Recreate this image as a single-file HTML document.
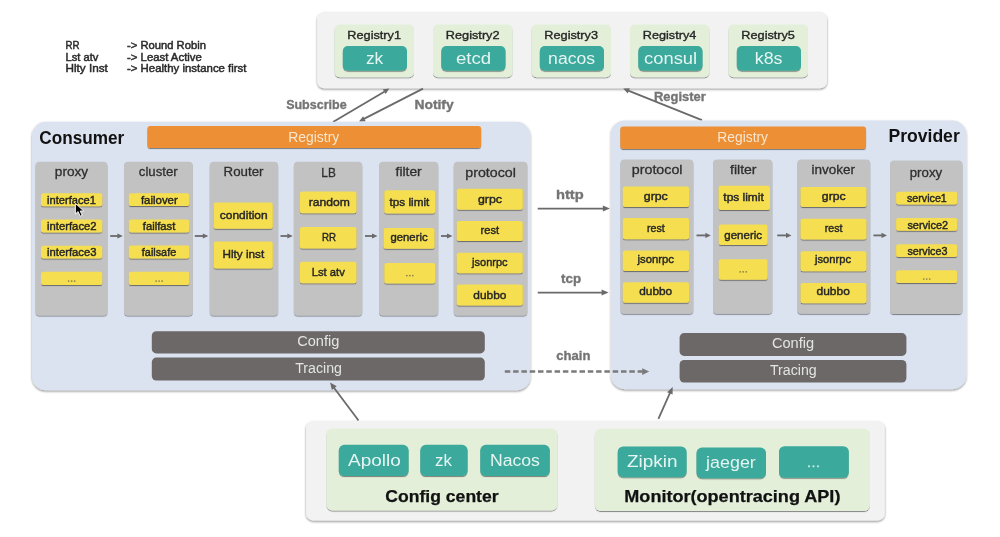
<!DOCTYPE html><html><head><meta charset="utf-8"><style>
html,body{margin:0;padding:0;background:#fff;}
svg{display:block;font-family:"Liberation Sans", sans-serif;filter:blur(0.6px);}
</style></head><body>
<svg width="1000" height="537" viewBox="0 0 1000 537">
<defs>
<filter id="sh" x="-10%" y="-10%" width="120%" height="130%"><feDropShadow dx="0" dy="1.1" stdDeviation="0.7" flood-color="#000" flood-opacity="0.42"/></filter>
<filter id="shb" x="-5%" y="-5%" width="110%" height="115%"><feDropShadow dx="0" dy="1.2" stdDeviation="0.8" flood-color="#000" flood-opacity="0.45"/></filter>
</defs>
<rect width="1000" height="537" fill="#fff"/>
<text x="65.60" y="49.40" font-size="10.3" fill="#2a2a2a" stroke="#2a2a2a" stroke-width="0.45" textLength="14.05" lengthAdjust="spacingAndGlyphs">RR</text>
<text x="127.00" y="49.40" font-size="10.3" fill="#2a2a2a" stroke="#2a2a2a" stroke-width="0.45" textLength="78.93" lengthAdjust="spacingAndGlyphs">-&gt; Round Robin</text>
<text x="65.49" y="60.90" font-size="10.3" fill="#2a2a2a" stroke="#2a2a2a" stroke-width="0.45" textLength="32.85" lengthAdjust="spacingAndGlyphs">Lst atv</text>
<text x="127.00" y="60.90" font-size="10.3" fill="#2a2a2a" stroke="#2a2a2a" stroke-width="0.45" textLength="74.80" lengthAdjust="spacingAndGlyphs">-&gt; Least Active</text>
<text x="65.44" y="71.80" font-size="10.3" fill="#2a2a2a" stroke="#2a2a2a" stroke-width="0.45" textLength="42.35" lengthAdjust="spacingAndGlyphs">Hlty Inst</text>
<text x="126.99" y="71.80" font-size="10.3" fill="#2a2a2a" stroke="#2a2a2a" stroke-width="0.45" textLength="119.49" lengthAdjust="spacingAndGlyphs">-&gt; Healthy instance first</text>
<rect x="317.3" y="12.3" width="509.7" height="75.9" rx="7" fill="#f2f2f2" filter="url(#shb)"/>
<rect x="334.5" y="24.5" width="79.5" height="52.7" rx="5" fill="#e3efd9" filter="url(#sh)"/>
<text x="347.36" y="39.40" font-size="11.6" fill="#262626" stroke="#262626" stroke-width="0.35" textLength="53.66" lengthAdjust="spacingAndGlyphs">Registry1</text>
<rect x="342.8" y="46.1" width="64.2" height="24.7" rx="5" fill="#3aa99b" filter="url(#sh)"/>
<text x="365.90" y="63.50" font-size="16" fill="#e6f5f2" textLength="17.27" lengthAdjust="spacingAndGlyphs">zk</text>
<rect x="433.0" y="24.5" width="79.5" height="52.7" rx="5" fill="#e3efd9" filter="url(#sh)"/>
<text x="445.86" y="39.40" font-size="11.6" fill="#262626" stroke="#262626" stroke-width="0.35" textLength="53.68" lengthAdjust="spacingAndGlyphs">Registry2</text>
<rect x="441.3" y="46.1" width="64.2" height="24.7" rx="5" fill="#3aa99b" filter="url(#sh)"/>
<text x="456.01" y="63.50" font-size="16" fill="#e6f5f2" textLength="35.19" lengthAdjust="spacingAndGlyphs">etcd</text>
<rect x="531.5" y="24.5" width="79.5" height="52.7" rx="5" fill="#e3efd9" filter="url(#sh)"/>
<text x="544.36" y="39.40" font-size="11.6" fill="#262626" stroke="#262626" stroke-width="0.35" textLength="53.60" lengthAdjust="spacingAndGlyphs">Registry3</text>
<rect x="539.8" y="46.1" width="64.2" height="24.7" rx="5" fill="#3aa99b" filter="url(#sh)"/>
<text x="548.13" y="63.50" font-size="16" fill="#e6f5f2" textLength="47.01" lengthAdjust="spacingAndGlyphs">nacos</text>
<rect x="630.0" y="24.5" width="79.5" height="52.7" rx="5" fill="#e3efd9" filter="url(#sh)"/>
<text x="642.86" y="39.40" font-size="11.6" fill="#262626" stroke="#262626" stroke-width="0.35" textLength="53.41" lengthAdjust="spacingAndGlyphs">Registry4</text>
<rect x="638.3" y="46.1" width="64.2" height="24.7" rx="5" fill="#3aa99b" filter="url(#sh)"/>
<text x="644.12" y="63.50" font-size="16" fill="#e6f5f2" textLength="53.01" lengthAdjust="spacingAndGlyphs">consul</text>
<rect x="728.5" y="24.5" width="79.5" height="52.7" rx="5" fill="#e3efd9" filter="url(#sh)"/>
<text x="741.36" y="39.40" font-size="11.6" fill="#262626" stroke="#262626" stroke-width="0.35" textLength="53.57" lengthAdjust="spacingAndGlyphs">Registry5</text>
<rect x="736.8" y="46.1" width="64.2" height="24.7" rx="5" fill="#3aa99b" filter="url(#sh)"/>
<text x="754.75" y="63.50" font-size="16" fill="#e6f5f2" textLength="27.75" lengthAdjust="spacingAndGlyphs">k8s</text>
<line x1="333.0" y1="122.0" x2="384.7" y2="91.4" stroke="#6a6a6a" stroke-width="1.8"/>
<polygon points="389.4,88.6 385.7,94.1 382.8,89.2" fill="#6a6a6a"/>
<line x1="423.0" y1="88.6" x2="363.9" y2="118.9" stroke="#6a6a6a" stroke-width="1.8"/>
<polygon points="359.0,121.4 363.1,116.2 365.6,121.2" fill="#6a6a6a"/>
<line x1="701.9" y1="120.1" x2="628.3" y2="90.6" stroke="#6a6a6a" stroke-width="1.8"/>
<polygon points="623.2,88.6 629.8,88.2 627.7,93.4" fill="#6a6a6a"/>
<text x="286.14" y="109.30" font-size="12.8" fill="#747474" font-weight="bold" stroke="#747474" stroke-width="0.35" textLength="60.49" lengthAdjust="spacingAndGlyphs">Subscribe</text>
<text x="414.47" y="109.40" font-size="12.8" fill="#747474" font-weight="bold" stroke="#747474" stroke-width="0.35" textLength="39.20" lengthAdjust="spacingAndGlyphs">Notify</text>
<text x="654.03" y="100.90" font-size="12.8" fill="#747474" font-weight="bold" stroke="#747474" stroke-width="0.35" textLength="51.76" lengthAdjust="spacingAndGlyphs">Register</text>
<rect x="32.0" y="121.8" width="498.4" height="268.5" rx="14" fill="#dbe3f1" filter="url(#shb)"/>
<text x="39.30" y="144.00" font-size="17.5" fill="#111" font-weight="bold" textLength="84.96" lengthAdjust="spacingAndGlyphs">Consumer</text>
<rect x="147.4" y="126.0" width="333.8" height="22.0" rx="3" fill="#ec8f36" filter="url(#sh)"/>
<text x="288.26" y="141.50" font-size="14" fill="#f9e6cf" textLength="50.97" lengthAdjust="spacingAndGlyphs">Registry</text>
<rect x="35.5" y="161.8" width="72.0" height="153.7" rx="4" fill="#c2c2c2" filter="url(#sh)"/>
<text x="54.82" y="176.20" font-size="13.2" fill="#2e2e2e" stroke="#2e2e2e" stroke-width="0.3" textLength="33.30" lengthAdjust="spacingAndGlyphs">proxy</text>
<rect x="41.0" y="193.3" width="61.3" height="13.0" rx="2.5" fill="#f5de50" filter="url(#sh)"/>
<text x="47.06" y="203.50" font-size="10.8" fill="#262626" stroke="#262626" stroke-width="0.42" textLength="48.79" lengthAdjust="spacingAndGlyphs">interface1</text>
<rect x="41.0" y="219.6" width="61.3" height="12.8" rx="2.5" fill="#f5de50" filter="url(#sh)"/>
<text x="47.05" y="229.70" font-size="10.8" fill="#262626" stroke="#262626" stroke-width="0.42" textLength="49.52" lengthAdjust="spacingAndGlyphs">interface2</text>
<rect x="41.0" y="245.7" width="61.3" height="12.8" rx="2.5" fill="#f5de50" filter="url(#sh)"/>
<text x="47.05" y="255.90" font-size="10.8" fill="#262626" stroke="#262626" stroke-width="0.42" textLength="49.45" lengthAdjust="spacingAndGlyphs">interface3</text>
<rect x="41.0" y="271.8" width="61.3" height="13.2" rx="2.5" fill="#f5de50" filter="url(#sh)"/>
<circle cx="68.7" cy="281.1" r="0.85" fill="#8a7f4a"/>
<circle cx="71.7" cy="281.1" r="0.85" fill="#8a7f4a"/>
<circle cx="74.7" cy="281.1" r="0.85" fill="#8a7f4a"/>
<rect x="124.0" y="161.8" width="68.8" height="153.7" rx="4" fill="#c2c2c2" filter="url(#sh)"/>
<text x="138.84" y="176.20" font-size="13.2" fill="#2e2e2e" stroke="#2e2e2e" stroke-width="0.3" textLength="38.78" lengthAdjust="spacingAndGlyphs">cluster</text>
<rect x="128.8" y="193.2" width="60.6" height="12.9" rx="2.5" fill="#f5de50" filter="url(#sh)"/>
<text x="140.94" y="203.50" font-size="10.8" fill="#262626" stroke="#262626" stroke-width="0.42" textLength="36.85" lengthAdjust="spacingAndGlyphs">failover</text>
<rect x="128.8" y="219.4" width="60.6" height="13.0" rx="2.5" fill="#f5de50" filter="url(#sh)"/>
<text x="142.84" y="229.70" font-size="10.8" fill="#262626" stroke="#262626" stroke-width="0.42" textLength="32.54" lengthAdjust="spacingAndGlyphs">failfast</text>
<rect x="128.8" y="245.5" width="60.6" height="12.9" rx="2.5" fill="#f5de50" filter="url(#sh)"/>
<text x="141.85" y="255.90" font-size="10.8" fill="#262626" stroke="#262626" stroke-width="0.42" textLength="34.33" lengthAdjust="spacingAndGlyphs">failsafe</text>
<rect x="128.8" y="271.7" width="60.6" height="13.3" rx="2.5" fill="#f5de50" filter="url(#sh)"/>
<circle cx="156.1" cy="281.1" r="0.85" fill="#8a7f4a"/>
<circle cx="159.1" cy="281.1" r="0.85" fill="#8a7f4a"/>
<circle cx="162.1" cy="281.1" r="0.85" fill="#8a7f4a"/>
<rect x="209.7" y="161.8" width="68.5" height="153.7" rx="4" fill="#c2c2c2" filter="url(#sh)"/>
<text x="223.61" y="176.10" font-size="13.2" fill="#2e2e2e" stroke="#2e2e2e" stroke-width="0.3" textLength="39.91" lengthAdjust="spacingAndGlyphs">Router</text>
<rect x="213.6" y="202.5" width="59.2" height="26.2" rx="2.5" fill="#f5de50" filter="url(#sh)"/>
<text x="219.89" y="218.90" font-size="11.5" fill="#262626" stroke="#262626" stroke-width="0.42" textLength="47.78" lengthAdjust="spacingAndGlyphs">condition</text>
<rect x="213.6" y="241.5" width="59.2" height="26.9" rx="2.5" fill="#f5de50" filter="url(#sh)"/>
<text x="222.44" y="258.10" font-size="11.5" fill="#262626" stroke="#262626" stroke-width="0.42" textLength="41.75" lengthAdjust="spacingAndGlyphs">Hlty inst</text>
<rect x="293.8" y="161.8" width="68.5" height="153.7" rx="4" fill="#c2c2c2" filter="url(#sh)"/>
<text x="321.33" y="176.50" font-size="13.2" fill="#2e2e2e" stroke="#2e2e2e" stroke-width="0.3" textLength="14.50" lengthAdjust="spacingAndGlyphs">LB</text>
<rect x="299.9" y="191.4" width="56.6" height="21.9" rx="2.5" fill="#f5de50" filter="url(#sh)"/>
<text x="308.69" y="206.00" font-size="11.5" fill="#262626" stroke="#262626" stroke-width="0.42" textLength="41.10" lengthAdjust="spacingAndGlyphs">random</text>
<rect x="299.9" y="227.0" width="56.6" height="21.6" rx="2.5" fill="#f5de50" filter="url(#sh)"/>
<text x="322.00" y="241.20" font-size="11.5" fill="#262626" stroke="#262626" stroke-width="0.42" textLength="14.05" lengthAdjust="spacingAndGlyphs">RR</text>
<rect x="299.9" y="261.8" width="56.6" height="21.5" rx="2.5" fill="#f5de50" filter="url(#sh)"/>
<text x="311.68" y="275.90" font-size="11.5" fill="#262626" stroke="#262626" stroke-width="0.42" textLength="33.16" lengthAdjust="spacingAndGlyphs">Lst atv</text>
<rect x="379.0" y="161.8" width="59.3" height="153.7" rx="4" fill="#c2c2c2" filter="url(#sh)"/>
<text x="395.60" y="175.90" font-size="13.2" fill="#2e2e2e" stroke="#2e2e2e" stroke-width="0.3" textLength="26.13" lengthAdjust="spacingAndGlyphs">filter</text>
<rect x="384.3" y="190.3" width="50.9" height="23.2" rx="2.5" fill="#f5de50" filter="url(#sh)"/>
<text x="389.62" y="205.50" font-size="11.5" fill="#262626" stroke="#262626" stroke-width="0.42" textLength="39.66" lengthAdjust="spacingAndGlyphs">tps limit</text>
<rect x="383.5" y="228.0" width="51.1" height="20.7" rx="2.5" fill="#f5de50" filter="url(#sh)"/>
<text x="390.53" y="241.00" font-size="11.5" fill="#262626" stroke="#262626" stroke-width="0.42" textLength="37.07" lengthAdjust="spacingAndGlyphs">generic</text>
<rect x="384.3" y="263.1" width="50.9" height="20.3" rx="2.5" fill="#f5de50" filter="url(#sh)"/>
<circle cx="406.8" cy="275.6" r="0.85" fill="#8a7f4a"/>
<circle cx="409.8" cy="275.6" r="0.85" fill="#8a7f4a"/>
<circle cx="412.8" cy="275.6" r="0.85" fill="#8a7f4a"/>
<rect x="453.7" y="161.8" width="73.7" height="153.7" rx="4" fill="#c2c2c2" filter="url(#sh)"/>
<text x="465.28" y="176.60" font-size="13.2" fill="#2e2e2e" stroke="#2e2e2e" stroke-width="0.3" textLength="50.57" lengthAdjust="spacingAndGlyphs">protocol</text>
<rect x="456.7" y="188.8" width="66.1" height="20.9" rx="2.5" fill="#f5de50" filter="url(#sh)"/>
<text x="477.98" y="202.50" font-size="11.5" fill="#262626" stroke="#262626" stroke-width="0.42" textLength="24.04" lengthAdjust="spacingAndGlyphs">grpc</text>
<rect x="456.7" y="221.0" width="66.1" height="20.0" rx="2.5" fill="#f5de50" filter="url(#sh)"/>
<text x="480.56" y="234.10" font-size="11.5" fill="#262626" stroke="#262626" stroke-width="0.42" textLength="18.52" lengthAdjust="spacingAndGlyphs">rest</text>
<rect x="456.7" y="252.7" width="66.1" height="20.5" rx="2.5" fill="#f5de50" filter="url(#sh)"/>
<text x="472.07" y="266.30" font-size="11.5" fill="#262626" stroke="#262626" stroke-width="0.42" textLength="35.52" lengthAdjust="spacingAndGlyphs">jsonrpc</text>
<rect x="456.7" y="284.6" width="66.1" height="20.9" rx="2.5" fill="#f5de50" filter="url(#sh)"/>
<text x="473.30" y="298.50" font-size="11.5" fill="#262626" stroke="#262626" stroke-width="0.42" textLength="33.10" lengthAdjust="spacingAndGlyphs">dubbo</text>
<line x1="110.2" y1="236.0" x2="117.9" y2="236.0" stroke="#6a6a6a" stroke-width="1.8"/>
<polygon points="122.9,236.0 117.4,238.6 117.4,233.4" fill="#6a6a6a"/>
<line x1="194.8" y1="236.0" x2="203.3" y2="236.0" stroke="#6a6a6a" stroke-width="1.8"/>
<polygon points="208.3,236.0 202.8,238.6 202.8,233.4" fill="#6a6a6a"/>
<line x1="280.5" y1="236.0" x2="287.8" y2="236.0" stroke="#6a6a6a" stroke-width="1.8"/>
<polygon points="292.8,236.0 287.3,238.6 287.3,233.4" fill="#6a6a6a"/>
<line x1="365.0" y1="236.0" x2="372.5" y2="236.0" stroke="#6a6a6a" stroke-width="1.8"/>
<polygon points="377.5,236.0 372.0,238.6 372.0,233.4" fill="#6a6a6a"/>
<line x1="441.0" y1="236.0" x2="447.5" y2="236.0" stroke="#6a6a6a" stroke-width="1.8"/>
<polygon points="452.5,236.0 447.0,238.6 447.0,233.4" fill="#6a6a6a"/>
<rect x="151.8" y="331.3" width="333.0" height="22.1" rx="4.5" fill="#6c6868"/>
<text x="297.16" y="346.00" font-size="13.8" fill="#e4e4e4" textLength="42.18" lengthAdjust="spacingAndGlyphs">Config</text>
<rect x="151.8" y="357.6" width="333.0" height="23.0" rx="4.5" fill="#6c6868"/>
<text x="295.19" y="372.50" font-size="13.8" fill="#e4e4e4" textLength="46.72" lengthAdjust="spacingAndGlyphs">Tracing</text>
<line x1="537.7" y1="208.6" x2="603.4" y2="208.6" stroke="#6a6a6a" stroke-width="1.8"/>
<polygon points="609.9,208.6 602.9,211.6 602.9,205.6" fill="#6a6a6a"/>
<text x="555.97" y="198.70" font-size="13" fill="#747474" font-weight="bold" stroke="#747474" stroke-width="0.35" textLength="27.73" lengthAdjust="spacingAndGlyphs">http</text>
<line x1="537.7" y1="292.6" x2="602.1" y2="292.6" stroke="#6a6a6a" stroke-width="1.8"/>
<polygon points="608.6,292.6 601.6,295.6 601.6,289.6" fill="#6a6a6a"/>
<text x="561.04" y="283.40" font-size="13" fill="#747474" font-weight="bold" stroke="#747474" stroke-width="0.35" textLength="20.01" lengthAdjust="spacingAndGlyphs">tcp</text>
<rect x="610.9" y="120.5" width="355.4" height="268.7" rx="14" fill="#dbe3f1" filter="url(#shb)"/>
<text x="888.42" y="142.10" font-size="17.5" fill="#111" font-weight="bold" textLength="71.34" lengthAdjust="spacingAndGlyphs">Provider</text>
<rect x="620.3" y="126.6" width="245.8" height="22.5" rx="3" fill="#ec8f36" filter="url(#sh)"/>
<text x="717.37" y="142.30" font-size="14" fill="#f9e6cf" textLength="50.66" lengthAdjust="spacingAndGlyphs">Registry</text>
<rect x="620.5" y="159.5" width="72.9" height="154.3" rx="4" fill="#c2c2c2" filter="url(#sh)"/>
<text x="631.78" y="174.40" font-size="13.2" fill="#2e2e2e" stroke="#2e2e2e" stroke-width="0.3" textLength="50.77" lengthAdjust="spacingAndGlyphs">protocol</text>
<rect x="622.8" y="186.4" width="66.4" height="20.6" rx="2.5" fill="#f5de50" filter="url(#sh)"/>
<text x="643.78" y="200.40" font-size="11.5" fill="#262626" stroke="#262626" stroke-width="0.42" textLength="24.04" lengthAdjust="spacingAndGlyphs">grpc</text>
<rect x="622.8" y="218.0" width="66.4" height="21.2" rx="2.5" fill="#f5de50" filter="url(#sh)"/>
<text x="647.00" y="232.00" font-size="11.5" fill="#262626" stroke="#262626" stroke-width="0.42" textLength="17.68" lengthAdjust="spacingAndGlyphs">rest</text>
<rect x="622.8" y="250.6" width="66.4" height="20.3" rx="2.5" fill="#f5de50" filter="url(#sh)"/>
<text x="637.48" y="263.20" font-size="11.5" fill="#262626" stroke="#262626" stroke-width="0.42" textLength="36.52" lengthAdjust="spacingAndGlyphs">jsonrpc</text>
<rect x="622.8" y="282.3" width="66.4" height="20.5" rx="2.5" fill="#f5de50" filter="url(#sh)"/>
<text x="639.30" y="295.10" font-size="11.5" fill="#262626" stroke="#262626" stroke-width="0.42" textLength="32.89" lengthAdjust="spacingAndGlyphs">dubbo</text>
<rect x="713.0" y="159.5" width="59.4" height="154.3" rx="4" fill="#c2c2c2" filter="url(#sh)"/>
<text x="730.00" y="174.00" font-size="13.2" fill="#2e2e2e" stroke="#2e2e2e" stroke-width="0.3" textLength="26.53" lengthAdjust="spacingAndGlyphs">filter</text>
<rect x="718.5" y="185.8" width="51.5" height="24.3" rx="2.5" fill="#f5de50" filter="url(#sh)"/>
<text x="723.32" y="201.10" font-size="11.5" fill="#262626" stroke="#262626" stroke-width="0.42" textLength="40.47" lengthAdjust="spacingAndGlyphs">tps limit</text>
<rect x="718.7" y="224.4" width="49.0" height="20.6" rx="2.5" fill="#f5de50" filter="url(#sh)"/>
<text x="724.32" y="238.80" font-size="11.5" fill="#262626" stroke="#262626" stroke-width="0.42" textLength="37.69" lengthAdjust="spacingAndGlyphs">generic</text>
<rect x="718.7" y="259.2" width="49.0" height="20.5" rx="2.5" fill="#f5de50" filter="url(#sh)"/>
<circle cx="740.2" cy="271.8" r="0.85" fill="#8a7f4a"/>
<circle cx="743.2" cy="271.8" r="0.85" fill="#8a7f4a"/>
<circle cx="746.2" cy="271.8" r="0.85" fill="#8a7f4a"/>
<rect x="797.3" y="159.5" width="73.0" height="154.3" rx="4" fill="#c2c2c2" filter="url(#sh)"/>
<text x="811.60" y="173.50" font-size="13.2" fill="#2e2e2e" stroke="#2e2e2e" stroke-width="0.3" textLength="43.53" lengthAdjust="spacingAndGlyphs">invoker</text>
<rect x="800.5" y="187.0" width="66.0" height="20.0" rx="2.5" fill="#f5de50" filter="url(#sh)"/>
<text x="821.89" y="200.40" font-size="11.5" fill="#262626" stroke="#262626" stroke-width="0.42" textLength="23.73" lengthAdjust="spacingAndGlyphs">grpc</text>
<rect x="800.5" y="218.7" width="66.0" height="20.9" rx="2.5" fill="#f5de50" filter="url(#sh)"/>
<text x="824.79" y="231.50" font-size="11.5" fill="#262626" stroke="#262626" stroke-width="0.42" textLength="17.79" lengthAdjust="spacingAndGlyphs">rest</text>
<rect x="800.5" y="251.3" width="66.0" height="19.9" rx="2.5" fill="#f5de50" filter="url(#sh)"/>
<text x="815.07" y="263.20" font-size="11.5" fill="#262626" stroke="#262626" stroke-width="0.42" textLength="35.92" lengthAdjust="spacingAndGlyphs">jsonrpc</text>
<rect x="800.5" y="282.9" width="66.0" height="20.3" rx="2.5" fill="#f5de50" filter="url(#sh)"/>
<text x="816.50" y="295.10" font-size="11.5" fill="#262626" stroke="#262626" stroke-width="0.42" textLength="33.31" lengthAdjust="spacingAndGlyphs">dubbo</text>
<rect x="890.0" y="160.4" width="72.5" height="153.6" rx="4" fill="#c2c2c2" filter="url(#sh)"/>
<text x="909.75" y="176.50" font-size="13.2" fill="#2e2e2e" stroke="#2e2e2e" stroke-width="0.3" textLength="32.38" lengthAdjust="spacingAndGlyphs">proxy</text>
<rect x="896.1" y="191.8" width="61.2" height="12.6" rx="2.5" fill="#f5de50" filter="url(#sh)"/>
<text x="906.90" y="202.20" font-size="10.8" fill="#262626" stroke="#262626" stroke-width="0.42" textLength="39.92" lengthAdjust="spacingAndGlyphs">service1</text>
<rect x="896.1" y="218.0" width="61.2" height="12.7" rx="2.5" fill="#f5de50" filter="url(#sh)"/>
<text x="907.40" y="228.50" font-size="10.8" fill="#262626" stroke="#262626" stroke-width="0.42" textLength="40.65" lengthAdjust="spacingAndGlyphs">service2</text>
<rect x="896.1" y="244.3" width="61.2" height="12.7" rx="2.5" fill="#f5de50" filter="url(#sh)"/>
<text x="907.40" y="254.60" font-size="10.8" fill="#262626" stroke="#262626" stroke-width="0.42" textLength="40.07" lengthAdjust="spacingAndGlyphs">service3</text>
<rect x="896.1" y="270.3" width="61.2" height="12.7" rx="2.5" fill="#f5de50" filter="url(#sh)"/>
<circle cx="923.7" cy="279.0" r="0.85" fill="#8a7f4a"/>
<circle cx="926.7" cy="279.0" r="0.85" fill="#8a7f4a"/>
<circle cx="929.7" cy="279.0" r="0.85" fill="#8a7f4a"/>
<line x1="696.5" y1="235.4" x2="705.8" y2="235.4" stroke="#6a6a6a" stroke-width="1.8"/>
<polygon points="710.8,235.4 705.3,238.0 705.3,232.8" fill="#6a6a6a"/>
<line x1="777.2" y1="235.4" x2="786.5" y2="235.4" stroke="#6a6a6a" stroke-width="1.8"/>
<polygon points="791.5,235.4 786.0,238.0 786.0,232.8" fill="#6a6a6a"/>
<line x1="873.4" y1="235.4" x2="882.0" y2="235.4" stroke="#6a6a6a" stroke-width="1.8"/>
<polygon points="887.0,235.4 881.5,238.0 881.5,232.8" fill="#6a6a6a"/>
<rect x="679.6" y="333.1" width="226.8" height="22.8" rx="4.5" fill="#6c6868"/>
<text x="771.96" y="347.90" font-size="13.8" fill="#e4e4e4" textLength="42.18" lengthAdjust="spacingAndGlyphs">Config</text>
<rect x="679.6" y="359.9" width="226.8" height="22.6" rx="4.5" fill="#6c6868"/>
<text x="769.99" y="374.80" font-size="13.8" fill="#e4e4e4" textLength="46.72" lengthAdjust="spacingAndGlyphs">Tracing</text>
<line x1="504.8" y1="371.6" x2="642.7" y2="371.6" stroke="#7a7a7a" stroke-width="2.5" stroke-dasharray="5.5 2.8"/>
<polygon points="649.2,371.6 642.2,375.0 642.2,368.2" fill="#7a7a7a"/>
<text x="556.29" y="360.30" font-size="13" fill="#747474" font-weight="bold" stroke="#747474" stroke-width="0.35" textLength="34.12" lengthAdjust="spacingAndGlyphs">chain</text>
<rect x="306.1" y="421.3" width="578.7" height="99.1" rx="7" fill="#f2f2f2" filter="url(#shb)"/>
<rect x="326.4" y="428.6" width="231.1" height="82.0" rx="6" fill="#e3efd9" filter="url(#sh)"/>
<rect x="338.8" y="444.8" width="69.8" height="31.2" rx="5.5" fill="#3aa99b" filter="url(#sh)"/>
<text x="348.06" y="466.10" font-size="16" fill="#e6f5f2" textLength="52.73" lengthAdjust="spacingAndGlyphs">Apollo</text>
<rect x="420.3" y="444.8" width="47.3" height="31.2" rx="5.5" fill="#3aa99b" filter="url(#sh)"/>
<text x="435.12" y="466.10" font-size="16" fill="#e6f5f2" textLength="16.86" lengthAdjust="spacingAndGlyphs">zk</text>
<rect x="480.3" y="444.8" width="69.5" height="31.2" rx="5.5" fill="#3aa99b" filter="url(#sh)"/>
<text x="489.95" y="466.10" font-size="16" fill="#e6f5f2" textLength="49.98" lengthAdjust="spacingAndGlyphs">Nacos</text>
<text x="385.38" y="501.80" font-size="16.5" fill="#111" font-weight="bold" stroke="#111" stroke-width="0.25" textLength="113.19" lengthAdjust="spacingAndGlyphs">Config center</text>
<rect x="594.8" y="428.8" width="275.2" height="82.1" rx="6" fill="#e3efd9" filter="url(#sh)"/>
<rect x="617.7" y="446.4" width="68.9" height="30.8" rx="5.5" fill="#3aa99b" filter="url(#sh)"/>
<text x="626.90" y="467.00" font-size="16" fill="#e6f5f2" textLength="50.53" lengthAdjust="spacingAndGlyphs">Zipkin</text>
<rect x="696.5" y="447.6" width="69.5" height="30.6" rx="5.5" fill="#3aa99b" filter="url(#sh)"/>
<text x="706.14" y="467.50" font-size="16" fill="#e6f5f2" textLength="49.66" lengthAdjust="spacingAndGlyphs">jaeger</text>
<rect x="779.0" y="446.2" width="69.8" height="31.6" rx="5.5" fill="#3aa99b" filter="url(#sh)"/>
<circle cx="809.0" cy="466.3" r="1.1" fill="#c8ece6"/>
<circle cx="813.5" cy="466.3" r="1.1" fill="#c8ece6"/>
<circle cx="818.0" cy="466.3" r="1.1" fill="#c8ece6"/>
<text x="624.30" y="501.60" font-size="16.5" fill="#111" font-weight="bold" stroke="#111" stroke-width="0.25" textLength="216.10" lengthAdjust="spacingAndGlyphs">Monitor(opentracing API)</text>
<line x1="358.5" y1="420.5" x2="334.0" y2="387.7" stroke="#6a6a6a" stroke-width="1.8"/>
<polygon points="330.1,382.5 336.7,386.3 331.9,389.9" fill="#6a6a6a"/>
<line x1="658.4" y1="418.9" x2="670.0" y2="392.9" stroke="#6a6a6a" stroke-width="1.8"/>
<polygon points="672.7,387.0 672.6,394.6 667.1,392.2" fill="#6a6a6a"/>
<path d="M75.4 203.4 L75.4 214 L78.1 211.6 L80.2 216.2 L82.2 215.3 L80.2 211 L83.8 211 Z" fill="#000" stroke="#fff" stroke-width="0.9" stroke-linejoin="round"/>
</svg></body></html>
